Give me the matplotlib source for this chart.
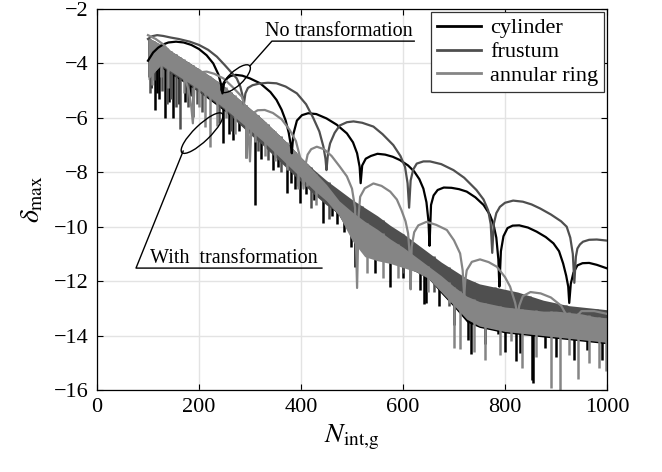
import numpy as np
import matplotlib
matplotlib.use('Agg')
import matplotlib.pyplot as plt
from matplotlib.patches import Ellipse
from matplotlib.transforms import ScaledTranslation

plt.rcParams['font.family'] = ['Liberation Serif', 'DejaVu Serif']
plt.rcParams['mathtext.fontset'] = 'stix'

C_CYL = '#000000'
C_FRU = '#4f4f4f'
C_ANN = '#858585'

# ---- no transformation: smooth arches (log10 of max error) ----
cyl_n = [100, 110, 120, 130, 140, 155, 170, 185, 200, 215, 228, 238, 243, 246,
         249, 255, 262, 272, 285, 300, 320, 340, 352, 362, 370, 376, 380, 382,
         385, 392, 402, 414, 430, 450, 470, 490, 502, 510, 515, 517,
         520, 527, 537, 550, 565, 580, 594, 610, 622, 632, 640, 646, 650, 652,
         655, 660, 668, 680, 695, 710, 725, 742, 758, 770, 777, 783, 787, 789,
         792, 797, 805, 815, 828, 845, 862, 880, 895, 906, 914, 920, 924, 926,
         929, 934, 942, 952, 965, 980, 1000]
cyl_d = [-3.9, -3.6, -3.42, -3.3, -3.23, -3.2, -3.23, -3.32, -3.47, -3.7, -4.0, -4.4, -4.75, -5.1,
         -4.75, -4.55, -4.46, -4.42, -4.45, -4.55, -4.73, -5.05, -5.34, -5.7, -6.1, -6.55, -7.0, -7.3,
         -6.6, -6.1, -5.9, -5.83, -5.86, -6.02, -6.25, -6.57, -6.9, -7.3, -7.8, -8.4,
         -7.75, -7.5, -7.4, -7.32, -7.35, -7.43, -7.55, -7.75, -7.97, -8.25, -8.6, -9.1, -9.8, -10.7,
         -9.2, -8.85, -8.65, -8.56, -8.57, -8.62, -8.71, -8.92, -9.2, -9.55, -9.88, -10.4, -11.2, -12.2,
         -10.9, -10.35, -10.05, -9.96, -9.95, -10.03, -10.18, -10.38, -10.61, -10.9, -11.35, -11.8, -12.2, -12.8,
         -12.1, -11.7, -11.42, -11.34, -11.33, -11.4, -11.53]

fru_n = [100, 108, 118, 130, 145, 160, 182, 200, 218, 235, 250, 262, 274, 281, 285, 288,
         291, 296, 305, 318, 335, 352, 370, 392, 410, 424, 436, 444, 448, 450,
         453, 457, 466, 476, 490, 503, 520, 542, 560, 581, 595, 604, 609, 612,
         615, 620, 627, 640, 653, 675, 699, 720, 744, 758, 767, 772, 775,
         778, 783, 790, 800, 816, 835, 852, 869, 890, 910, 921, 928, 933, 936,
         939, 942, 947, 953, 965, 980, 1000]
fru_d = [-3.1, -3.0, -2.96, -2.99, -3.05, -3.1, -3.2, -3.32, -3.5, -3.75, -4.05, -4.3, -4.55, -4.85, -5.15, -5.5,
         -5.1, -4.9, -4.8, -4.74, -4.71, -4.73, -4.85, -5.1, -5.5, -6.0, -6.5, -7.06, -7.5, -7.92,
         -7.3, -6.94, -6.55, -6.28, -6.16, -6.13, -6.18, -6.32, -6.6, -7.0, -7.4, -7.8, -8.4, -9.3,
         -8.3, -7.9, -7.68, -7.6, -7.6, -7.7, -7.92, -8.2, -8.65, -9.0, -9.4, -9.9, -10.96,
         -9.9, -9.5, -9.27, -9.12, -9.04, -9.08, -9.18, -9.33, -9.55, -9.8, -10.0, -10.4, -11.0, -12.06,
         -11.1, -10.8, -10.65, -10.55, -10.48, -10.47, -10.51]

ann_n = [100, 115, 130, 146, 160, 172, 180, 185, 188,
         191, 196, 205, 215, 230, 248, 265, 284, 292, 297, 300,
         303, 306, 315, 329, 345, 362, 378, 390, 398, 402, 405,
         408, 413, 420, 431, 445, 460, 476, 490, 500, 506, 510,
         513, 516, 525, 542, 558, 575, 588, 597, 605, 610, 613, 615,
         617, 622, 630, 646, 665, 686, 700, 712, 717, 720,
         722, 725, 735, 751, 768, 784, 800, 810, 820, 825,
         828, 835, 850, 870, 890, 910, 925, 930,
         935, 950, 975, 1000]
ann_d = [-2.96, -3.1, -3.3, -3.63, -4.0, -4.5, -5.0, -5.6, -6.2,
         -4.9, -4.45, -4.32, -4.3, -4.38, -4.55, -4.85, -5.22, -5.7, -6.5, -7.6,
         -6.2, -5.83, -5.72, -5.71, -5.82, -6.05, -6.45, -6.85, -7.43, -7.9, -8.6,
         -7.8, -7.35, -7.15, -7.06, -7.15, -7.4, -7.79, -8.15, -8.6, -9.3, -12.25,
         -9.6, -8.9, -8.59, -8.41, -8.5, -8.71, -9.0, -9.39, -9.8, -10.24, -11.0, -12.3,
         -10.74, -10.2, -9.95, -9.82, -9.93, -10.12, -10.5, -10.98, -11.6, -12.57,
         -12.0, -11.6, -11.29, -11.2, -11.3, -11.47, -11.85, -12.2, -12.8, -13.3,
         -12.9, -12.55, -12.4, -12.45, -12.6, -12.9, -13.4, -14.0,
         -13.4, -13.1, -13.1, -13.2]

# ---- with transformation: noisy bands (upper / lower envelope) ----
n_grid = list(range(100, 1001, 25))
ann_top = [-3.05, -3.3, -3.6, -3.9, -4.2, -4.5, -4.85, -5.25, -5.65, -6.05, -6.5, -6.95, -7.45,
           -7.95, -8.45, -9.05, -9.45, -9.8, -10.1, -10.45, -10.75, -11.1, -11.45, -11.8, -12.2,
           -12.55, -12.75, -12.85, -12.95, -13.0, -13.05, -13.1, -13.1, -13.15, -13.2, -13.3, -13.35]
ann_bot = [-4.6, -4.05, -4.35, -4.65, -4.95, -5.3, -5.65, -6.05, -6.45, -6.85, -7.3, -7.75, -8.2,
           -8.65, -9.05, -9.6, -10.5, -11.1, -11.25, -11.35, -11.5, -11.65, -11.9, -12.4, -12.9,
           -13.4, -13.65, -13.75, -13.85, -13.9, -13.95, -14.0, -14.05, -14.1, -14.15, -14.2, -14.25]
fru_top = [-3.05, -3.3, -3.6, -3.9, -4.2, -4.5, -4.85, -5.25, -5.65, -6.05, -6.5, -6.95, -7.45,
           -7.9, -8.3, -8.65, -9.0, -9.3, -9.6, -9.95, -10.25, -10.6, -10.95, -11.3, -11.6,
           -11.9, -12.1, -12.2, -12.3, -12.4, -12.55, -12.7, -12.8, -12.9, -12.95, -13.0, -13.05]
fru_bot = [-4.5, -4.1, -4.4, -4.7, -5.0, -5.35, -5.7, -6.15, -6.6, -7.0, -7.45, -7.9, -8.35,
           -8.8, -9.2, -9.5, -9.8, -10.1, -10.4, -10.75, -11.05, -11.4, -11.75, -12.05, -12.4,
           -12.75, -13.0, -13.15, -13.25, -13.3, -13.4, -13.45, -13.5, -13.55, -13.6, -13.65, -13.7]
cyl_top = [-3.1, -3.35, -3.65, -3.95, -4.25, -4.55, -4.9, -5.3, -5.7, -6.1, -6.55, -7.0, -7.5,
           -8.0, -8.5, -9.1, -9.5, -9.85, -10.15, -10.5, -10.8, -11.15, -11.5, -11.85, -12.25,
           -12.6, -12.8, -12.9, -13.0, -13.05, -13.1, -13.15, -13.15, -13.2, -13.25, -13.3, -13.4]
cyl_bot = [-4.5, -4.15, -4.45, -4.75, -5.05, -5.4, -5.75, -6.15, -6.55, -6.95, -7.4, -7.85, -8.3,
           -8.75, -9.1, -9.6, -10.4, -11.0, -11.2, -11.3, -11.45, -11.65, -11.9, -12.45, -12.95,
           -13.5, -13.7, -13.8, -13.9, -13.95, -14.0, -14.05, -14.1, -14.15, -14.2, -14.25, -14.3]

# downward spikes hanging off each band: position and depth
cyl_sp_n = [106, 114, 118, 122, 133, 141, 150, 160, 172, 182, 248, 258, 267, 278, 310, 322, 345,
            355, 372, 380, 388, 398, 410, 425, 443, 460, 470, 485, 499, 506, 545, 575, 600, 633,
            641, 646, 670, 700, 728, 733, 760, 786, 800, 822, 829, 852, 855, 878, 900, 935, 960, 990]
cyl_sp_d = [-4.9, -5.71, -5.1, -5.3, -6.02, -5.4, -6.02, -5.5, -5.4, -5.2, -6.94, -6.6, -6.81,
            -6.5, -9.2, -7.5, -7.9, -7.8, -8.77, -8.4, -8.6, -9.14, -8.8, -9.0, -9.88, -9.6,
            -9.9, -10.2, -10.74, -11.48, -11.7, -12.2, -11.9, -12.33, -12.84, -12.82, -12.9,
            -13.6, -14.16, -14.68, -14.3, -13.94, -14.6, -14.94, -14.65, -15.63, -15.75, -14.45,
            -14.8, -14.9, -14.53, -14.9]
fru_sp_n = [104, 111, 128, 137, 145, 155, 163, 178, 189, 197, 205, 240, 262, 293, 315, 335, 360,
            395, 420, 455, 520, 560, 600, 660, 690, 740, 780, 850, 920, 980]
fru_sp_d = [-5.1, -4.6, -5.0, -5.5, -5.3, -5.6, -6.4, -5.6, -5.96, -5.5, -5.8, -6.2, -6.5, -7.49,
            -7.2, -7.55, -8.0, -8.5, -9.3, -9.7, -10.9, -11.2, -11.7, -12.4, -12.9, -13.4, -13.6,
            -13.8, -13.9, -14.0]
ann_sp_n = [108, 125, 140, 170, 200, 212, 222, 235, 252, 270, 293, 310, 330, 350, 372, 395, 412,
            430, 530, 560, 590, 650, 690, 700, 712, 740, 760, 790, 812, 833, 860, 891, 908, 925,
            943, 965, 985, 998]
ann_sp_d = [-4.8, -4.5, -4.9, -5.1, -5.6, -6.33, -7.06, -6.3, -6.0, -6.6, -7.49, -6.9, -7.4, -7.6,
            -7.9, -8.6, -8.5, -9.2, -11.7, -11.9, -11.9, -12.4, -12.8, -14.45, -14.5, -14.6, -14.9,
            -14.7, -14.2, -15.2, -14.8, -15.93, -16.0, -14.7, -15.6, -15.0, -15.2, -15.3]

fig = plt.figure(figsize=(6.62, 4.72), dpi=100)
ax = fig.add_axes([0.1465, 0.1737, 0.7704, 0.8072])

ax.grid(True, color='#e3e3e3', linewidth=1.0, zorder=0)
ax.set_axisbelow(True)

# transformed curves: black first, annular ring on top
for top, bot, sp_n, sp_d, c in [(cyl_top, cyl_bot, cyl_sp_n, cyl_sp_d, C_CYL),
                                (fru_top, fru_bot, fru_sp_n, fru_sp_d, C_FRU),
                                (ann_top, ann_bot, ann_sp_n, ann_sp_d, C_ANN)]:
    ax.fill_between(n_grid, bot, top, color=c, linewidth=0, zorder=2)
    ax.vlines(sp_n, sp_d, np.interp(sp_n, n_grid, top), color=c, linewidth=1.8, zorder=2)

# untransformed curves
ax.plot(cyl_n, cyl_d, color=C_CYL, linewidth=1.6, label='cylinder', zorder=3)
ax.plot(fru_n, fru_d, color=C_FRU, linewidth=1.6, label='frustum', zorder=3)
ax.plot(ann_n, ann_d, color=C_ANN, linewidth=1.6, label='annular ring', zorder=3)

ax.set_xlim(0, 1000)
ax.set_ylim(-16, -2)
ax.set_xticks(range(0, 1001, 200))
ax.set_yticks(range(-16, -1, 2))
ax.tick_params(direction='in', top=True, right=True, length=4, labelsize=16, pad=6)
for s in ax.spines.values():
    s.set_linewidth(0.9)

ax.set_xlabel(r'$N_{\rm int{,}g}$', fontsize=20, labelpad=4)
ax.set_ylabel(r'$\delta_{\rm max}$', fontsize=20, labelpad=6)

leg = ax.legend(loc='upper right', fontsize=16, frameon=True, fancybox=False,
                framealpha=1, edgecolor='#333333', handlelength=2.0, handletextpad=0.4,
                labelspacing=0.15, borderpad=0.25, borderaxespad=0.15)
leg.get_frame().set_linewidth(0.9)
for h in leg.get_lines():
    h.set_linewidth(2.0)

# callouts
def ring(xc, yc, w, h, ang):
    tr = fig.dpi_scale_trans + ScaledTranslation(xc, yc, ax.transData)
    ax.add_patch(Ellipse((0, 0), w, h, angle=ang, transform=tr, fill=False,
                         edgecolor='k', linewidth=1.0, zorder=5, clip_on=False))

ring(272, -4.56, 0.38, 0.14, 43)
ax.plot([300, 343, 622], [-4.09, -3.18, -3.18], color='k', linewidth=1.0, zorder=5)
ax.text(329, -2.98, 'No transformation', fontsize=14.5, va='baseline', zorder=6)

ring(206, -6.56, 0.56, 0.16, 44)
ax.plot([169, 76.5, 441], [-7.22, -11.52, -11.52], color='k', linewidth=1.0, zorder=5)
ax.text(104, -11.35, 'With  transformation', fontsize=14.5, va='baseline', zorder=6)

fig.savefig('out.png', dpi=100)
